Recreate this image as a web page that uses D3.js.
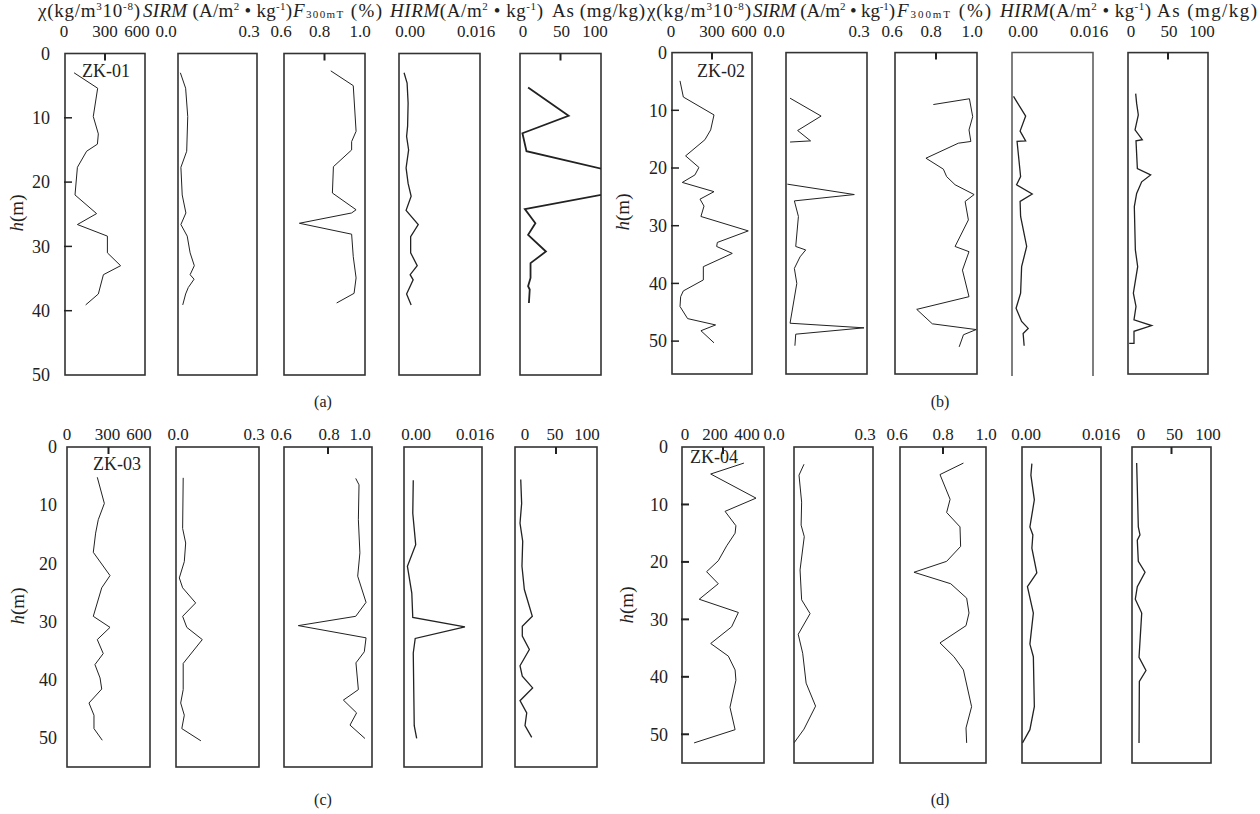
<!DOCTYPE html>
<html lang="en">
<head>
  <meta charset="UTF-8">
  <title>ZK logs</title>
  <script src="https://cdn.jsdelivr.net/npm/d3@7"></script>
  <style>
    body { margin: 0; background: #fff; }
    svg text { font-family: "Liberation Serif", "Times New Roman", serif; fill: #222; }
  </style>
</head>
<body>
  <div id="chart"></div>

  <script>
    // ---- data (depth h in m, value per track) ----
    // ZK-01
    const zk01_chi_h = [3.0, 5.4, 9.8, 12.5, 14.1, 15.2, 17.7, 22.0, 24.9, 26.6, 28.4, 31.0, 33.0, 34.4, 37.4, 39.1];
    const zk01_chi = [68, 245, 212, 250, 243, 162, 93, 75, 237, 93, 318, 318, 417, 288, 250, 155];
    const zk01_sirm_h = [3.0, 5.4, 9.8, 15.2, 17.7, 22.0, 24.8, 26.6, 28.4, 31.0, 33.0, 34.4, 35.1, 36.4, 37.4, 39.1];
    const zk01_sirm = [0.009, 0.029, 0.037, 0.033, 0.011, 0.016, 0.030, 0.011, 0.035, 0.046, 0.062, 0.046, 0.061, 0.039, 0.029, 0.018];
    const zk01_f_h = [2.7, 5.0, 12.1, 13.7, 15.0, 17.6, 21.7, 24.3, 24.8, 26.4, 28.1, 31.6, 34.9, 37.3, 38.8];
    const zk01_f = [0.831, 0.942, 0.956, 0.934, 0.934, 0.844, 0.839, 0.956, 0.934, 0.676, 0.934, 0.942, 0.956, 0.946, 0.860];
    const zk01_hirm_h = [3.0, 4.6, 7.7, 11.3, 12.9, 15.0, 17.8, 20.2, 22.2, 24.4, 26.6, 28.5, 31.0, 33.0, 34.4, 35.2, 37.4, 39.1];
    const zk01_hirm = [0.0010, 0.0016, 0.0018, 0.0017, 0.0015, 0.0019, 0.0014, 0.0018, 0.0024, 0.0014, 0.0038, 0.0023, 0.0023, 0.0036, 0.0022, 0.0028, 0.0015, 0.0024];
    const zk01_as_h = [5.3, 9.7, 12.4, 15.2, 18.5, 21.5, 24.2, 26.4, 28.2, 30.8, 32.6, 34.9, 36.2, 36.7, 38.8];
    const zk01_as = [10, 60, 3, 8, 120, 120, 6, 19, 10, 32, 13, 13, 10, 12, 11];

    // ZK-02 (null = no sample)
    const zk02_chi_h = [4.9, 7.7, 10.8, 13.4, 15.1, 17.9, 19.9, 21.2, 22.5, 24.1, 25.4, 26.6, 28.4, 30.9, 32.9, 33.6, 34.8, 37.1, 39.4, 41.3, 42.3, 44.0, 46.1, 47.2, 48.2, 50.3];
    const zk02_chi = [60, 85, 315, 290, 247, 102, 202, 172, 77, 315, 210, 240, 217, 572, 340, 335, 452, 235, 235, 85, 65, 60, 117, 327, 217, 315];
    const zk02_sirm_h = [7.9, 11.0, 13.5, 15.3, 15.5, 19.0, 22.8, 24.6, 25.7, 28.4, 33.6, 34.2, 35.4, 37.4, 40.0, 46.9, 47.7, 48.8, 50.8];
    const zk02_sirm = [0.015, 0.130, 0.043, 0.091, 0.015, null, 0.005, 0.253, 0.031, 0.046, 0.036, 0.073, 0.052, 0.031, 0.040, 0.015, 0.289, 0.036, 0.033];
    const zk02_f_h = [9.0, 8.0, 11.1, 13.4, 15.4, 15.7, 18.3, 20.2, 21.5, 22.9, 24.6, 25.8, 29.0, 33.6, 34.5, 37.7, 42.3, 44.5, 47.0, 48.0, 48.9, 51.0];
    const zk02_f = [0.787, 0.963, 0.979, 0.961, 0.970, 0.909, 0.751, 0.836, 0.852, 0.893, 0.986, 0.942, 0.958, 0.893, 0.961, 0.929, 0.961, 0.706, 0.782, 0.996, 0.934, 0.913];
    const zk02_hirm_h = [7.6, 11.0, 13.6, 15.3, 15.4, 21.5, 22.9, 24.5, 25.8, 28.4, 33.6, 37.1, 41.7, 44.3, 46.6, 47.8, 48.7, 50.8];
    const zk02_hirm = [0.0003, 0.0027, 0.0016, 0.0027, 0.0010, 0.0017, 0.0009, 0.0040, 0.0016, 0.0017, 0.0029, 0.0019, 0.0017, 0.0008, 0.0019, 0.0032, 0.0022, 0.0024];
    const zk02_as_h = [7.1, 8.8, 10.8, 13.4, 15.1, 15.3, 20.1, 21.2, 22.4, 24.4, 26.7, 34.2, 37.1, 41.7, 44.0, 46.3, 47.3, 48.3, 50.4, 50.4];
    const zk02_as = [9.6, 10.8, 12.9, 8.8, 17.9, 10, 11.7, 28.3, 17.1, 10.8, 7.9, 9.2, 12.1, 6.7, 10, 7.5, 29.6, 7.5, 7.5, 1.5];

    // ZK-03
    const zk03_chi_h = [5.2, 9.7, 12.5, 14.8, 18.1, 22.1, 24.2, 29.1, 31.0, 33.1, 35.5, 37.4, 39.7, 41.6, 44.0, 46.1, 48.4, 50.4];
    const zk03_chi = [219, 270, 226, 207, 190, 311, 251, 190, 311, 219, 262, 202, 239, 251, 159, 195, 195, 255];
    const zk03_sirm_h = [5.3, 14.0, 16.5, 19.7, 22.5, 24.2, 26.8, 29.1, 31.0, 33.1, 37.2, 41.7, 44.0, 46.1, 48.4, 50.5];
    const zk03_sirm = [0.026, 0.024, 0.035, 0.030, 0.012, 0.024, 0.071, 0.024, 0.039, 0.095, 0.026, 0.026, 0.017, 0.030, 0.021, 0.090];
    const zk03_f_h = [5.4, 6.5, 12.5, 18.2, 22.2, 26.7, 29.1, 30.7, 32.8, 35.2, 37.1, 41.7, 43.5, 45.7, 47.8, 50.1];
    const zk03_f = [0.926, 0.941, 0.938, 0.945, 0.935, 0.973, 0.926, 0.665, 0.973, 0.965, 0.927, 0.938, 0.870, 0.930, 0.900, 0.968];
    const zk03_hirm_h = [5.7, 11.4, 16.8, 20.5, 25.1, 29.3, 30.9, 32.9, 35.4, 47.9, 50.1];
    const zk03_hirm = [0.0019, 0.0018, 0.0024, 0.0007, 0.0016, 0.0018, 0.0125, 0.0023, 0.0019, 0.0021, 0.0026];
    const zk03_as_h = [5.6, 9.7, 13.1, 16.2, 20.5, 24.5, 29.1, 30.8, 32.5, 34.8, 37.6, 39.4, 41.4, 43.6, 45.7, 47.9, 49.9];
    const zk03_as = [7.0, 8.1, 6.1, 9.4, 8.5, 11.4, 21.1, 8.9, 8.9, 17.5, 6.1, 8.9, 21.5, 6.1, 14.3, 12.2, 20.4];

    // ZK-04
    const zk04_chi_h = [2.8, 4.7, 8.9, 11.2, 13.7, 15.0, 17.2, 19.8, 21.7, 23.8, 26.5, 28.8, 31.3, 34.2, 36.4, 38.8, 40.6, 45.3, 49.2, 51.5];
    const zk04_chi = [302, 140, 361, 210, 263, 259, 218, 177, 120, 177, 84, 275, 242, 140, 226, 259, 263, 234, 259, 59];
    const zk04_sirm_h = [3.0, 4.9, 9.6, 13.6, 15.6, 21.4, 26.6, 29.0, 32.6, 35.9, 41.1, 45.1, 49.1, 51.5];
    const zk04_sirm = [0.038, 0.019, 0.029, 0.027, 0.039, 0.023, 0.029, 0.061, 0.016, 0.033, 0.046, 0.082, 0.038, 0.000];
    const zk04_f_h = [2.8, 4.8, 9.1, 11.4, 13.9, 17.3, 19.9, 21.8, 23.8, 26.3, 28.9, 31.1, 34.1, 36.5, 38.8, 45.2, 48.9, 51.5];
    const zk04_f = [0.895, 0.786, 0.833, 0.817, 0.879, 0.882, 0.817, 0.665, 0.836, 0.910, 0.921, 0.907, 0.786, 0.851, 0.895, 0.933, 0.907, 0.910];
    const zk04_hirm_h = [2.9, 4.9, 9.2, 13.9, 15.3, 17.6, 21.9, 24.3, 28.9, 34.3, 36.5, 45.2, 49.2, 51.5];
    const zk04_hirm = [0.0020, 0.0018, 0.0025, 0.0016, 0.0022, 0.0020, 0.0030, 0.0011, 0.0023, 0.0016, 0.0023, 0.0025, 0.0016, 0.0001];
    const zk04_as_h = [2.8, 13.9, 15.3, 16.2, 19.9, 21.8, 24.3, 26.5, 28.9, 36.6, 38.9, 40.8, 51.5];
    const zk04_as = [5.9, 8.0, 10.1, 6.7, 8.0, 16.5, 6.7, 4.2, 12.3, 8.9, 17.7, 9.3, 8.9];

    // axis domains and tick labels
    const chiDomain = [0, 600], chiDomainD = [0, 400];
    const sirmDomain = [0, 0.3], fDomain = [0.6, 1.0], hirmDomain = [0, 0.016], asDomain = [0, 100];
    const chiTicks = [0, 300, 600], chiTicksD = [0, 200, 400];
    const sirmTicks = ["0.0", "0.3"];
    const fTicks = ["0.6", "0.8", "1.0"];
    const hirmTicks = ["0.00", "0.016"];
    const asTicks = [0, 50, 100];
    const depthTicks = [0, 10, 20, 30, 40, 50];
    const wellNames = ["ZK-01", "ZK-02", "ZK-03", "ZK-04"];
    const captions = ["(a)", "(b)", "(c)", "(d)"];

    // ---- layout ----
    const width = 1260, height = 814;
    const panels = [
      { boxes: [[65, 145], [178, 257], [284, 365], [399, 480], [520, 601]], top: 53.5, bottom: 375, hMax: 50,
        tickY: 37, tickDx: [[-1, 0, -8], [-12, -8], [-3, -5, -5], [11, -4], [3, 1, -6]],
        titleY: 17, titleX: [38, 143, 293, 390, 552], titleW: [102, 149, 89, 153, 93],
        hx: 17, hy: 213, gap: 15, yTicks: [10, 20, 30, 40], zk: [82, 77], cap: [323, 407] },
      { boxes: [[672, 752], [786, 867], [895, 977], [1012, 1093], [1128, 1208]], top: 52.6, bottom: 374, hMax: 55.7,
        tickY: 37, tickDx: [[-1, 0, -8], [-12, -8], [-3, -5, -5], [11, -4], [3, 1, -6]],
        titleY: 17, titleX: [647, 753, 897, 1000, 1157], titleW: [104, 142, 94, 151, 100],
        hx: 623, hy: 212, gap: 5, yTicks: [10, 20, 30, 40, 50], zk: [697, 77], cap: [940, 407], openBottom: 3 },
      { boxes: [[67, 150], [176, 259], [284, 372], [404, 482], [515, 597]], top: 447, bottom: 767, hMax: 55,
        tickY: 440, tickDx: [[0, -1, -11], [2, -5], [-3, 1, -12], [12, -7], [10, -1, -10]],
        hx: 18, hy: 606, gap: 10, yTicks: [], zk: [93, 470], cap: [323, 805] },
      { boxes: [[682, 764], [794, 873], [900, 986], [1022, 1101], [1132, 1211]], top: 447, bottom: 763, hMax: 55,
        tickY: 440, tickDx: [[3, -8, -17], [-20, -8], [-3, 0, 0], [4, 0], [9, 3, -3]],
        hx: 627, hy: 605, gap: 14, yTicks: [10, 20, 30, 40, 50], zk: [690, 463], cap: [940, 805] }
    ];

    const wells = [
      [[zk01_chi_h, zk01_chi], [zk01_sirm_h, zk01_sirm], [zk01_f_h, zk01_f], [zk01_hirm_h, zk01_hirm], [zk01_as_h, zk01_as]],
      [[zk02_chi_h, zk02_chi], [zk02_sirm_h, zk02_sirm], [zk02_f_h, zk02_f], [zk02_hirm_h, zk02_hirm], [zk02_as_h, zk02_as]],
      [[zk03_chi_h, zk03_chi], [zk03_sirm_h, zk03_sirm], [zk03_f_h, zk03_f], [zk03_hirm_h, zk03_hirm], [zk03_as_h, zk03_as]],
      [[zk04_chi_h, zk04_chi], [zk04_sirm_h, zk04_sirm], [zk04_f_h, zk04_f], [zk04_hirm_h, zk04_hirm], [zk04_as_h, zk04_as]]
    ];

    const titles = [
      [{ t: "χ(kg/m" }, { t: "3", s: "sup" }, { t: "10" }, { t: "-8", s: "sup" }, { t: ")" }],
      [{ t: "SIRM", s: "i" }, { t: " (A/m" }, { t: "2", s: "sup" }, { t: " • kg" }, { t: "-1", s: "sup" }, { t: ")" }],
      [{ t: "F", s: "i" }, { t: "300mT", s: "sub" }, { t: " (%)" }],
      [{ t: "HIRM", s: "i" }, { t: "(A/m" }, { t: "2", s: "sup" }, { t: " • kg" }, { t: "-1", s: "sup" }, { t: ")" }],
      [{ t: "As (mg/kg)" }]
    ];

    const svg = d3.select('#chart')
      .append('svg')
        .attr('width', width)
        .attr('height', height);

    const defs = svg.append('defs');

    panels.forEach((p, pi) => {
      const g = svg.append('g');
      const y = d3.scaleLinear().domain([0, p.hMax]).range([p.top, p.bottom]);
      const domains = [pi === 3 ? chiDomainD : chiDomain, sirmDomain, fDomain, hirmDomain, asDomain];
      const tickVals = [pi === 3 ? chiTicksD : chiTicks, sirmTicks.map(Number), fTicks.map(Number), hirmTicks.map(Number), asTicks];
      const tickText = [(pi === 3 ? chiTicksD : chiTicks).map(String), sirmTicks, fTicks, hirmTicks, asTicks.map(String)];
      const innerTick = [pi === 3 ? 200 : 300, null, 0.8, null, 50];

      p.boxes.forEach((b, ti) => {
        const x = d3.scaleLinear().domain(domains[ti]).range(b);
        const clipId = `clip-${pi}-${ti}`;
        defs.append('clipPath').attr('id', clipId)
          .append('rect')
            .attr('x', b[0]).attr('y', p.top)
            .attr('width', b[1] - b[0]).attr('height', p.bottom - p.top);

        // frame (HIRM of ZK-02 has no bottom edge)
        if (p.openBottom === ti) {
          g.append('path')
            .attr('d', `M${b[0]},${p.bottom + 2}V${p.top}H${b[1]}V${p.bottom + 2}`)
            .attr('fill', 'none').attr('stroke', '#555').attr('stroke-width', 1.5);
        } else {
          g.append('rect')
            .attr('x', b[0]).attr('y', p.top)
            .attr('width', b[1] - b[0]).attr('height', p.bottom - p.top)
            .attr('fill', 'none').attr('stroke', '#333').attr('stroke-width', 1.6);
        }

        // inner tick on top
        if (innerTick[ti] !== null) {
          g.append('line')
            .attr('x1', x(innerTick[ti])).attr('x2', x(innerTick[ti]))
            .attr('y1', p.top).attr('y2', p.top + 7)
            .attr('stroke', '#222').attr('stroke-width', 2);
        }

        // tick labels above
        g.selectAll(null)
          .data(tickVals[ti])
          .join('text')
            .attr('x', (d, i) => x(d) + p.tickDx[ti][i])
            .attr('y', p.tickY)
            .attr('text-anchor', 'middle')
            .style('font-size', '17px')
            .text((d, i) => tickText[ti][i]);

        // header titles
        if (p.titleX) {
          const t = g.append('text')
            .attr('x', p.titleX[ti]).attr('y', p.titleY)
            .attr('textLength', p.titleW[ti])
            .attr('lengthAdjust', 'spacing')
            .style('font-size', '19px');
          let shift = 0;
          titles[ti].forEach(part => {
            const target = part.s === 'sup' ? -7 : part.s === 'sub' ? 1 : 0;
            const ts = t.append('tspan').attr('dy', target - shift).text(part.t);
            shift = target;
            if (part.s === 'sup' || part.s === 'sub') ts.style('font-size', '11px');
            if (part.s === 'i') ts.style('font-style', 'italic');
          });
        }

        // data line
        const [hs, vs] = wells[pi][ti];
        const pts = hs.map((h, i) => ({ h: h, v: vs[i] }));
        const line = d3.line()
          .defined(d => d.v !== null)
          .x(d => x(d.v))
          .y(d => y(d.h));
        g.append('path')
          .datum(pts)
          .attr('clip-path', `url(#${clipId})`)
          .attr('d', line)
          .attr('fill', 'none')
          .attr('stroke', '#222')
          .attr('stroke-width', (pi === 0 && ti === 4) ? 1.8 : (ti >= 3 ? 1.3 : 1));
      });

      // depth axis
      const left = p.boxes[0][0];
      g.selectAll(null)
        .data(depthTicks)
        .join('text')
          .attr('x', left - p.gap)
          .attr('y', d => y(d))
          .attr('dy', '0.35em')
          .attr('text-anchor', 'end')
          .style('font-size', '18px')
          .text(d => d);

      g.selectAll(null)
        .data(p.yTicks)
        .join('line')
          .attr('x1', left - 1).attr('x2', left + 7)
          .attr('y1', d => y(d)).attr('y2', d => y(d))
          .attr('stroke', '#222')
          .attr('stroke-width', pi === 3 ? 2 : 1.5);

      g.append('text')
        .attr('transform', `translate(${p.hx + 6},${p.hy}) rotate(-90)`)
        .attr('text-anchor', 'middle')
        .style('font-size', '19px')
        .call(t => {
          t.append('tspan').style('font-style', 'italic').text('h');
          t.append('tspan').text('(m)');
        });

      g.append('text')
        .attr('x', p.zk[0]).attr('y', p.zk[1])
        .style('font-size', '18px')
        .text(wellNames[pi]);

      g.append('text')
        .attr('x', p.cap[0]).attr('y', p.cap[1])
        .attr('text-anchor', 'middle')
        .style('font-size', '16px')
        .text(captions[pi]);
    });
  </script>
</body>
</html>
